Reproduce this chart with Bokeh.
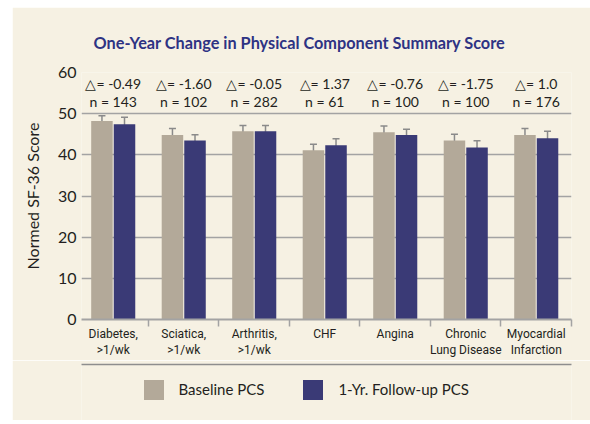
import numpy as np
from bokeh.plotting import figure
from bokeh.layouts import column
from bokeh.models import (ColumnDataSource, Range1d, FixedTicker, LinearAxis,
                          Whisker, TeeHead, Legend, LegendItem)
from bokeh.core.properties import value
from bokeh.embed import file_html
from bokeh.resources import INLINE

# ---------------- data ----------------
categories = ["Diabetes,\n>1/wk", "Sciatica,\n>1/wk", "Arthritis,\n>1/wk", "CHF",
              "Angina", "Chronic\nLung Disease", "Myocardial\nInfarction"]
baseline = [48.2, 44.8, 45.7, 41.1, 45.5, 43.5, 44.8]
baseline_lo = [46.1, 43.0, 43.7, 39.3, 43.7, 41.6, 43.0]
baseline_hi = [49.5, 46.4, 47.1, 42.6, 47.0, 45.0, 46.4]
followup = [47.4, 43.5, 45.7, 42.3, 44.8, 41.8, 44.0]
followup_lo = [45.7, 41.5, 43.7, 40.5, 42.8, 40.1, 42.3]
followup_hi = [49.1, 44.9, 47.1, 43.9, 46.2, 43.4, 45.7]
deltas = ["\u25b3= -0.49", "\u25b3= -1.60", "\u25b3= -0.05", "\u25b3= 1.37",
          "\u25b3= -0.76", "\u25b3= -1.75", "\u25b3= 1.0"]
counts = ["n = 143", "n = 102", "n = 282", "n = 61", "n = 100", "n = 100", "n = 176"]
series_names = ["Baseline PCS", "1-Yr. Follow-up PCS"]
y_ticks = [0, 10, 20, 30, 40, 50, 60]

# ---------------- styles ----------------
BG = "#F6F1E3"
C_BASE = "#B3A999"
C_FOLL = "#3A3A76"
GRID = "#A3A3A3"
TXT = "#231F20"
FONT = "Lato"
NARROW = "Roboto"

n = len(categories)
centers = np.arange(n) + 0.5
off = 0.16
bw = 0.305

p = figure(frame_width=490, frame_height=247, output_backend="svg", toolbar_location=None,
           x_range=Range1d(0.05, 7), y_range=Range1d(0, 60),
           min_border_left=69, min_border_right=19, min_border_top=65, min_border_bottom=0,
           background_fill_color=BG, border_fill_color=BG, outline_line_color=None,
           margin=(7, 0, 0, 12))

p.title.text = "One-Year Change in Physical Component Summary Score"
p.title.align = "left"
p.title.offset = 12
p.title.text_font = FONT
p.title.text_font_size = "16.3px"
p.title.text_font_style = "bold"
p.title.text_color = "#2E3383"
p.title.standoff = 42

src_b = ColumnDataSource(dict(x=centers - off, top=baseline, lo=baseline_lo, hi=baseline_hi))
src_f = ColumnDataSource(dict(x=centers + off, top=followup, lo=followup_lo, hi=followup_hi))

p.vbar(x="x", top="top", width=bw, source=src_b, fill_color=C_BASE, line_color=None)
p.vbar(x="x", top="top", width=bw, source=src_f, fill_color=C_FOLL, line_color=None)

for src in (src_b, src_f):
    w = Whisker(base="x", lower="lo", upper="hi", source=src, line_color="#8A8A8A", line_width=1.5,
                upper_head=TeeHead(size=7, line_color="#8A8A8A", line_width=1.5),
                lower_head=TeeHead(size=7, line_color="#8A8A8A", line_width=1.5))
    p.add_layout(w)

src_t = ColumnDataSource(dict(x=centers, d=deltas, n=counts))
p.text(x="x", y=57.3, text="d", source=src_t, text_font=value(FONT), text_font_size="14px",
       text_align="center", text_baseline="middle", text_color=TXT)
p.text(x="x", y=53.0, text="n", source=src_t, text_font=value(FONT), text_font_size="14px",
       text_align="center", text_baseline="middle", text_color=TXT)

# y axis
p.yaxis.ticker = FixedTicker(ticks=y_ticks)
p.yaxis.axis_line_color = None
p.yaxis.major_tick_line_color = None
p.yaxis.minor_tick_line_color = None
p.yaxis.major_tick_out = 0
p.yaxis.major_tick_in = 0
p.yaxis.major_label_standoff = 5
p.yaxis.major_label_text_font = FONT
p.yaxis.major_label_text_font_size = "16px"
p.yaxis.major_label_text_color = TXT
p.yaxis.axis_label = "Normed SF-36 Score"
p.yaxis.axis_label_text_font = FONT
p.yaxis.axis_label_text_font_size = "16px"
p.yaxis.axis_label_text_font_style = "normal"
p.yaxis.axis_label_text_color = TXT
p.yaxis.axis_label_standoff = 13

p.ygrid.ticker = FixedTicker(ticks=y_ticks[1:])
p.ygrid.grid_line_color = GRID
p.ygrid.grid_line_width = 1.5
p.xgrid.grid_line_color = None

# x axis
xa = p.xaxis[0]
xa.ticker = FixedTicker(ticks=list(centers), minor_ticks=list(range(1, n + 1)))
xa.major_label_overrides = {float(c): lab for c, lab in zip(centers, categories)}
xa.major_tick_line_color = None
xa.major_tick_out = 0
xa.major_tick_in = 0
xa.minor_tick_line_color = GRID
xa.minor_tick_line_width = 1.5
xa.minor_tick_out = 7
xa.minor_tick_in = 0
xa.axis_line_color = GRID
xa.axis_line_width = 2
xa.major_label_standoff = 0
xa.major_label_text_font = NARROW
xa.major_label_text_font_size = "12px"
xa.major_label_text_color = TXT

# ---------------- legend strip (separate figure) ----------------
q = figure(width=578, height=60, output_backend="svg", toolbar_location=None,
           x_range=p.x_range, y_range=Range1d(-2, -1),
           min_border_left=69, min_border_right=19, min_border_top=0, min_border_bottom=0,
           background_fill_color=BG, border_fill_color=BG, outline_line_color=None,
           margin=(0, 0, 0, 12))
q.xaxis.visible = False
q.yaxis.visible = False
q.grid.visible = False
sep = LinearAxis(ticker=FixedTicker(ticks=[3.5]), major_label_overrides={3.5: " "},
                 axis_line_color="#8E8E8E", axis_line_width=1.5,
                 major_tick_line_color=None, minor_tick_line_color=None,
                 major_tick_out=0, minor_tick_out=0, major_label_standoff=0,
                 major_label_text_font_size="1px")
q.add_layout(sep, "above")

# same series, drawn outside this strip's visible y-range: only their legend swatches show
lb = q.vbar(x="x", top="top", width=bw, source=src_b, fill_color=C_BASE, line_color=None)
lf = q.vbar(x="x", top="top", width=bw, source=src_f, fill_color=C_FOLL, line_color=None)

legend = Legend(items=[LegendItem(label=series_names[0], renderers=[lb]),
                       LegendItem(label=series_names[1], renderers=[lf])],
                orientation="horizontal", location=(59.5, 18.5),
                glyph_width=25, glyph_height=25, label_standoff=13, spacing=36,
                padding=8, margin=0, background_fill_alpha=0, border_line_color=None,
                label_text_font=FONT, label_text_font_size="15px", label_text_color=TXT)
q.add_layout(legend)

page = column(p, q, spacing=0)
open("out.html", "w").write(file_html(page, INLINE))
